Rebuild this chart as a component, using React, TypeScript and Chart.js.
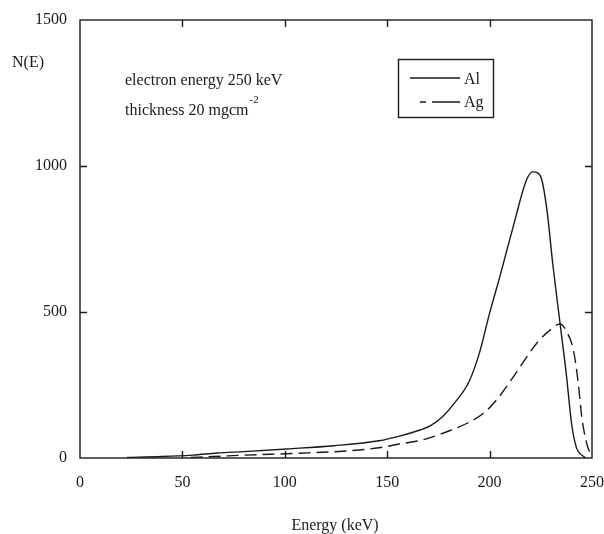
import React, { useEffect, useRef } from "react";
import { Chart, registerables } from "chart.js";

Chart.register(...registerables);

// Energy (keV) and N(E) values
const alEnergy = [23, 40, 55, 67, 80, 101, 124, 146, 156, 166, 171, 177, 182, 190, 195, 200, 205, 212, 218, 221, 223, 225.5, 228, 231, 234.4, 237.6, 240, 242.5, 245, 247];
const alCounts = [2, 5, 10, 17, 22, 31, 42, 59, 75, 96, 110, 141, 181, 262, 359, 496, 621, 805, 952, 980, 978, 952, 849, 655, 461, 278, 119, 33, 10, 0];

const agEnergy = [54, 65, 81, 106, 130, 146, 156, 166, 172.5, 181, 189, 197, 203.4, 211.6, 223, 229.5, 234.4, 237.6, 240.9, 243.3, 245, 247.4, 249.9];
const agCounts = [2, 5, 10, 16, 24, 35, 48, 60, 73, 95, 119, 153, 199, 278, 393, 438, 459, 433, 370, 256, 141, 50, 3];

const xTicks = [0, 50, 100, 150, 200, 250];
const yTicks = [0, 500, 1000, 1500];

const seriesNames = ["Al", "Ag"];
const yTitle = "N(E)";
const xTitle = "Energy (keV)";
const note1 = "electron energy 250 keV";
const note2 = "thickness 20 mgcm";
const note2Sup = "-2";

const FONT = "'Liberation Serif', 'Times New Roman', serif";
const INK = "#1a1a1a";

const framePlugin = {
  id: "frame",
  afterDraw(chart: any) {
    const { ctx, chartArea } = chart;
    const { left, right, top, bottom } = chartArea;
    const xs = chart.scales.x;
    const ys = chart.scales.y;
    ctx.save();
    ctx.strokeStyle = INK;
    ctx.lineWidth = 1.4;
    ctx.setLineDash([]);
    ctx.strokeRect(left, top, right - left, bottom - top);
    const tl = 7;
    ctx.beginPath();
    xTicks.slice(1, -1).forEach((v) => {
      const px = Math.round(xs.getPixelForValue(v)) + 0.5;
      ctx.moveTo(px, bottom);
      ctx.lineTo(px, bottom - tl);
      ctx.moveTo(px, top);
      ctx.lineTo(px, top + tl);
    });
    yTicks.slice(1, -1).forEach((v) => {
      const py = Math.round(ys.getPixelForValue(v)) + 0.5;
      ctx.moveTo(left, py);
      ctx.lineTo(left + tl, py);
      ctx.moveTo(right, py);
      ctx.lineTo(right - tl, py);
    });
    ctx.stroke();

    // texts
    ctx.fillStyle = INK;
    ctx.font = `16px ${FONT}`;
    ctx.textBaseline = "alphabetic";
    ctx.textAlign = "left";
    ctx.fillText(yTitle, 12, 67);
    ctx.fillText(note1, 125, 85);
    ctx.fillText(note2, 125, 115);
    const w2 = ctx.measureText(note2).width;
    ctx.font = `11px ${FONT}`;
    ctx.fillText(note2Sup, 125 + w2 + 1, 103);
    ctx.font = `16px ${FONT}`;
    ctx.textAlign = "center";
    ctx.fillText(xTitle, 335, 530);

    // legend
    ctx.lineWidth = 1.4;
    ctx.strokeRect(398.5, 59.5, 95, 58);
    ctx.beginPath();
    ctx.moveTo(410, 78);
    ctx.lineTo(460, 78);
    ctx.stroke();
    ctx.beginPath();
    ctx.moveTo(420, 102);
    ctx.lineTo(426, 102);
    ctx.moveTo(432, 102);
    ctx.lineTo(460, 102);
    ctx.stroke();
    ctx.textAlign = "left";
    ctx.fillText(seriesNames[0], 464, 84);
    ctx.fillText(seriesNames[1], 464, 107);
    ctx.restore();
  },
};

export default function App() {
  const ref = useRef<HTMLCanvasElement | null>(null);
  useEffect(() => {
    if (!ref.current) return;
    const chart = new Chart(ref.current, {
      type: "line",
      data: {
        datasets: [
          {
            label: seriesNames[0],
            data: alEnergy.map((x, i) => ({ x, y: alCounts[i] })),
            borderColor: INK,
            borderWidth: 1.4,
            pointRadius: 0,
            cubicInterpolationMode: "monotone",
            fill: false,
          },
          {
            label: seriesNames[1],
            data: agEnergy.map((x, i) => ({ x, y: agCounts[i] })),
            borderColor: INK,
            borderWidth: 1.4,
            borderDash: [12, 6],
            pointRadius: 0,
            cubicInterpolationMode: "monotone",
            fill: false,
          },
        ],
      },
      options: {
        animation: false,
        responsive: false,
        maintainAspectRatio: false,
        layout: { padding: { top: 20, right: 12, left: 0, bottom: 0 } },
        plugins: { legend: { display: false }, tooltip: { enabled: false } },
        scales: {
          x: {
            type: "linear",
            min: 0,
            max: 250,
            afterBuildTicks: (s: any) => {
              s.ticks = xTicks.map((v) => ({ value: v }));
            },
            afterFit: (s: any) => {
              s.height = 76;
              s.paddingLeft = 0;
              s.paddingRight = 0;
            },
            grid: { display: false, drawTicks: false },
            border: { display: false },
            ticks: {
              padding: 15,
              color: INK,
              font: { family: FONT, size: 16 },
              maxRotation: 0,
              callback: (v: any) => String(v),
            },
          },
          y: {
            type: "linear",
            min: 0,
            max: 1500,
            afterBuildTicks: (s: any) => {
              s.ticks = yTicks.map((v) => ({ value: v }));
            },
            afterFit: (s: any) => {
              s.width = 80;
              s.paddingTop = 0;
              s.paddingBottom = 0;
            },
            grid: { display: false, drawTicks: false },
            border: { display: false },
            ticks: {
              padding: 13,
              color: INK,
              font: { family: FONT, size: 16 },
              callback: (v: any) => String(v),
            },
          },
        },
      },
      plugins: [framePlugin],
    });
    return () => chart.destroy();
  }, []);
  return (
    <div style={{ position: "fixed", left: 0, top: 0, width: 604, height: 534, background: "#fff" }}>
      <canvas ref={ref} width={604} height={534} style={{ width: 604, height: 534, display: "block" }} />
    </div>
  );
}
